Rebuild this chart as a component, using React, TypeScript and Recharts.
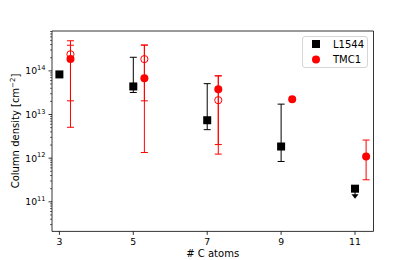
import React from "react";
import {
  ScatterChart, Scatter, XAxis, YAxis, ErrorBar, ReferenceArea, Legend,
} from "recharts";

// L1544 column densities per number of C atoms
const L1544_C = [3, 5, 7, 9, 11];
const L1544_N = [8.3e13, 4.4e13, 7.4e12, 1.85e12, 2.0e11];
const L1544_LO = [null, 3.2e13, 4.5e12, 8.4e11, null];
const L1544_HI = [null, 2.05e14, 5.1e13, 1.73e13, null];
const L1544_UPPER = [false, false, false, false, true];

// TMC1 (filled), plotted slightly to the right
const TMC1_C = [3.3, 5.3, 7.3, 9.3, 11.3];
const TMC1_N = [1.86e14, 6.8e13, 3.8e13, 2.25e13, 1.09e12];
const TMC1_LO = [5.1e12, 1.35e12, 1.24e12, null, 3.2e11];
const TMC1_HI = [4.9e14, 3.9e14, 7.7e13, null, 2.6e12];

// TMC1 alternative values (open circles)
const TMC1B_C = [3.3, 5.3, 7.3];
const TMC1B_N = [2.4e14, 1.86e14, 2.13e13];
const TMC1B_LO = [2.06e13, 2.06e13, 2.05e12];
const TMC1B_HI = [3.87e14, 3.9e14, 7.7e13];

const X_TICKS = [3, 5, 7, 9, 11];
const DECADES = [11, 12, 13, 14];
const MINOR_MULT = [2, 3, 4, 5, 6, 7, 8, 9];

const X_DOMAIN = [2.8, 11.5];
const Y_DOMAIN = [2.1e10, 8.2e14];

function build(c: number[], n: number[], lo: (number | null)[], hi: (number | null)[], up?: boolean[]) {
  return c.map((x, i) => ({
    x,
    y: n[i],
    err: lo[i] != null && hi[i] != null ? [n[i] - (lo[i] as number), (hi[i] as number) - n[i]] : undefined,
    upper: up ? up[i] : false,
  }));
}

const l1544 = build(L1544_C, L1544_N, L1544_LO, L1544_HI, L1544_UPPER);
const tmc1 = build(TMC1_C, TMC1_N, TMC1_LO, TMC1_HI);
const tmc1b = build(TMC1B_C, TMC1B_N, TMC1B_LO, TMC1B_HI);

const majorTicks = DECADES.map((d) => Math.pow(10, d));
const minorTicks: number[] = [];
[10, ...DECADES].forEach((d) => {
  MINOR_MULT.forEach((m) => {
    const v = m * Math.pow(10, d);
    if (v > Y_DOMAIN[0] && v < Y_DOMAIN[1]) minorTicks.push(v);
  });
});
const yTicks = [...majorTicks, ...minorTicks].sort((a, b) => a - b);

const FONT = "DejaVu Sans, sans-serif";

const YTick = (props: any) => {
  const { x, y, payload } = props;
  const v = payload.value;
  const exp = Math.round(Math.log10(v));
  const major = Math.abs(v - Math.pow(10, exp)) < 1e-6 * v;
  return (
    <g>
      <line x1={x - (major ? 3.5 : 2)} x2={x} y1={y} y2={y} stroke="#000" strokeWidth={major ? 0.8 : 0.6} />
      {major && (
        <text x={x - 6.5} y={y + 3.4} textAnchor="end" fontSize={9.3} fill="#000" fontFamily={FONT}>
          <tspan>10</tspan>
          <tspan dy={-4.3} fontSize={6.6}>{exp}</tspan>
        </text>
      )}
    </g>
  );
};

const XTick = (props: any) => {
  const { x, y, payload } = props;
  return (
    <g>
      <line x1={x} x2={x} y1={y} y2={y + 3.5} stroke="#000" strokeWidth={0.8} />
      <text x={x} y={y + 13.3} textAnchor="middle" fontSize={9.3} fill="#000" fontFamily={FONT}>
        {payload.value}
      </text>
    </g>
  );
};

const Square = (props: any) => {
  const { cx, cy, payload } = props;
  return (
    <g>
      <rect x={cx - 4} y={cy - 4} width={8} height={8} fill="#000" />
      {payload.upper && (
        <g>
          <line x1={cx} x2={cx} y1={cy} y2={cy + 8} stroke="#000" strokeWidth={1} />
          <path d={`M${cx - 3.5},${cy + 5.5} L${cx + 3.5},${cy + 5.5} L${cx},${cy + 10} Z`} fill="#000" />
        </g>
      )}
    </g>
  );
};

const Dot = (props: any) => <circle cx={props.cx} cy={props.cy} r={4} fill="#ff0000" />;
const OpenDot = (props: any) => (
  <circle cx={props.cx} cy={props.cy} r={3.6} fill="none" stroke="#ff0000" strokeWidth={1} />
);

const LegendBox = () => (
  <div
    style={{
      width: 66,
      height: 32,
      border: "1px solid #d6d6d6",
      borderRadius: 3,
      background: "rgba(255,255,255,0.8)",
      fontFamily: FONT,
      fontSize: 10,
      boxSizing: "border-box",
      position: "relative",
    }}
  >
    <svg width={66} height={32} style={{ position: "absolute", left: -1, top: -1 }}>
      <rect x={10} y={4} width={8} height={8} fill="#000" />
      <circle cx={14} cy={23.5} r={4} fill="#ff0000" />
      <text x={31} y={11.5} fontSize={10} fill="#000" fontFamily={FONT}>L1544</text>
      <text x={31} y={27} fontSize={10} fill="#000" fontFamily={FONT}>TMC1</text>
    </svg>
  </div>
);

export default function App() {
  return (
    <div style={{ position: "absolute", left: 0, top: 0, width: 415, height: 260, background: "#fff" }}>
      <ScatterChart width={415} height={260} margin={{ top: 31, right: 41.5, left: 0, bottom: 0 }}>
        <XAxis
          type="number"
          dataKey="x"
          domain={X_DOMAIN}
          ticks={X_TICKS}
          allowDataOverflow
          axisLine={false}
          tickLine={false}
          tickSize={0}
          tickMargin={0}
          height={28.6}
          tick={<XTick />}
          interval={0}
          label={{
            content: () => (
              <text x={212.7} y={256.5} textAnchor="middle" fontSize={10} fill="#000" fontFamily={FONT}>
                # C atoms
              </text>
            ),
          }}
        />
        <YAxis
          type="number"
          dataKey="y"
          scale="log"
          domain={Y_DOMAIN}
          ticks={yTicks}
          allowDataOverflow
          axisLine={false}
          tickLine={false}
          tickSize={0}
          tickMargin={0}
          width={52}
          interval={0}
          tick={<YTick />}
          label={{
            content: () => (
              <text
                x={19}
                y={131}
                transform="rotate(-90 19 131)"
                textAnchor="middle"
                fontSize={10}
                fill="#000"
                fontFamily={FONT}
              >
                <tspan>Column density [cm</tspan>
                <tspan dy={-4.5} fontSize={7}>−2</tspan>
                <tspan dy={4.5}>]</tspan>
              </text>
            ),
          }}
        />
        <ReferenceArea
          x1={X_DOMAIN[0]}
          x2={X_DOMAIN[1]}
          y1={Y_DOMAIN[0]}
          y2={Y_DOMAIN[1]}
          fill="none"
          stroke="#000"
          strokeWidth={0.8}
          ifOverflow="visible"
        />
        <Scatter name="L1544" data={l1544} shape={<Square />} isAnimationActive={false}>
          <ErrorBar dataKey="err" direction="y" width={3.5} stroke="#000" strokeWidth={1} />
        </Scatter>
        <Scatter name="TMC1" data={tmc1} shape={<Dot />} isAnimationActive={false}>
          <ErrorBar dataKey="err" direction="y" width={3.5} stroke="#ff0000" strokeWidth={1} />
        </Scatter>
        <Scatter name="TMC1 (alt)" data={tmc1b} shape={<OpenDot />} isAnimationActive={false} legendType="none">
          <ErrorBar dataKey="err" direction="y" width={3.5} stroke="#ff0000" strokeWidth={1} />
        </Scatter>
        <Legend
          layout="vertical"
          align="center"
          verticalAlign="middle"
          wrapperStyle={{ left: 302, top: 36, width: 66, height: 32 }}
          content={() => <LegendBox />}
        />
      </ScatterChart>
    </div>
  );
}
